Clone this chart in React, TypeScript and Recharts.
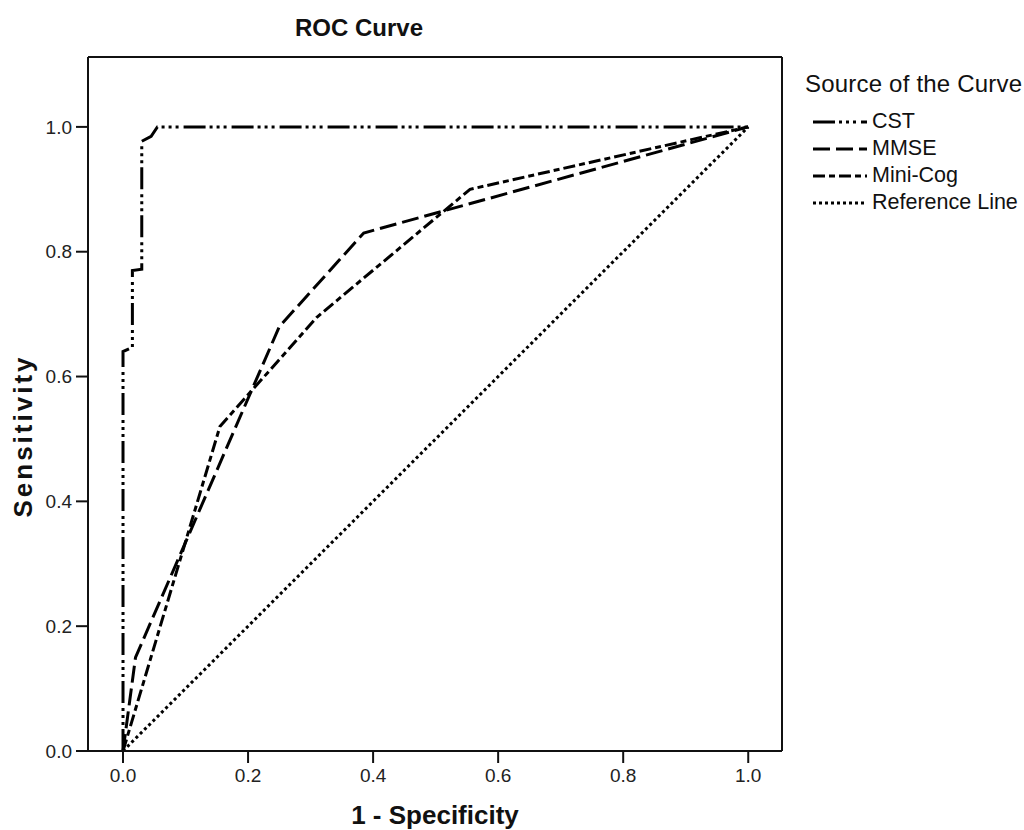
import React from 'react';
import { LineChart, Line, XAxis, YAxis, ReferenceLine, Label } from 'recharts';

// ROC points (1 - specificity, sensitivity)
const cstX = [0, 0, 0.015, 0.015, 0.03, 0.03, 0.045, 0.055, 1];
const cstY = [0, 0.64, 0.647, 0.77, 0.772, 0.977, 0.985, 1, 1];
const mmseX = [0, 0.02, 0.25, 0.385, 1];
const mmseY = [0, 0.15, 0.68, 0.83, 1];
const miniCogX = [0, 0.155, 0.31, 0.555, 1];
const miniCogY = [0, 0.52, 0.695, 0.9, 1];
const refX = [0, 1];
const refY = [0, 1];

const ticks = [0, 0.2, 0.4, 0.6, 0.8, 1];
const seriesNames = ['CST', 'MMSE', 'Mini-Cog', 'Reference Line'];
const dashes = ['22 4 3 4 3 4 3 5', '17 6', '12 4 6 4', '3 3'];

const toPoints = (xs: number[], ys: number[]) => xs.map((x, i) => ({ x, y: ys[i] }));

const series = [
  toPoints(cstX, cstY),
  toPoints(mmseX, mmseY),
  toPoints(miniCogX, miniCogY),
  toPoints(refX, refY),
];

const FONT = '"Liberation Sans", Arial, sans-serif';
const X_MAX = 1.054;
const Y_MAX = 1.112;

const tickStyle = { fill: '#222', fontSize: 19, fontFamily: FONT };
const lineStyle = { stroke: '#111', strokeWidth: 2 };

export default function App() {
  return (
    <div style={{ position: 'absolute', left: 0, top: 0, width: 1024, height: 830, background: '#fff' }}>
      <div
        style={{
          position: 'absolute', left: 295, top: 14, fontFamily: FONT, fontWeight: 'bold',
          fontSize: 24, color: '#111', whiteSpace: 'nowrap',
        }}
      >
        ROC Curve
      </div>

      <LineChart width={1024} height={830} margin={{ top: 57, right: 242, bottom: 0, left: 0 }}>
        <XAxis
          type="number"
          dataKey="x"
          domain={[-0.056, X_MAX]}
          ticks={ticks}
          allowDataOverflow
          tickFormatter={(v: number) => v.toFixed(1)}
          height={79}
          axisLine={lineStyle}
          tickLine={lineStyle}
          tickSize={12}
          tickMargin={6}
          tick={tickStyle}
        >
          <Label
            content={({ viewBox }: any) => (
              <text
                x={viewBox.x + viewBox.width / 2}
                y={824}
                textAnchor="middle"
                fontFamily={FONT}
                fontWeight="bold"
                fontSize={26}
                fill="#111"
              >
                1 - Specificity
              </text>
            )}
          />
        </XAxis>
        <YAxis
          type="number"
          dataKey="y"
          domain={[0, Y_MAX]}
          ticks={ticks}
          allowDataOverflow
          tickFormatter={(v: number) => v.toFixed(1)}
          width={88}
          axisLine={lineStyle}
          tickLine={lineStyle}
          tickSize={12}
          tickMargin={4}
          tick={tickStyle}
        >
          <Label
            content={() => (
              <text
                x={0}
                y={0}
                transform="translate(32, 436) rotate(-90)"
                textAnchor="middle"
                fontFamily={FONT}
                fontWeight="bold"
                fontSize={26}
                letterSpacing={3}
                fill="#111"
              >
                Sensitivity
              </text>
            )}
          />
        </YAxis>
        <ReferenceLine y={Y_MAX} stroke="#111" strokeWidth={2} />
        <ReferenceLine x={X_MAX} stroke="#111" strokeWidth={2} />
        {series.map((pts, i) => (
          <Line
            key={seriesNames[i]}
            data={pts}
            dataKey="y"
            type="linear"
            stroke="#000"
            strokeWidth={3}
            strokeDasharray={dashes[i]}
            dot={false}
            activeDot={false}
            isAnimationActive={false}
          />
        ))}
      </LineChart>

      <div style={{ position: 'absolute', left: 805, top: 70, fontFamily: FONT, color: '#111' }}>
        <div style={{ fontSize: 24, letterSpacing: 0.2, whiteSpace: 'nowrap', lineHeight: '28px' }}>
          Source of the Curve
        </div>
        <div style={{ marginTop: 10 }}>
          {seriesNames.map((name, i) => (
            <div key={name} style={{ display: 'flex', alignItems: 'center', height: 27 }}>
              <svg width={56} height={6} style={{ marginLeft: 8 }}>
                <line x1={0} y1={3} x2={54} y2={3} stroke="#000" strokeWidth={3} strokeDasharray={dashes[i]} />
              </svg>
              <span style={{ fontSize: 21.5, marginLeft: 3, whiteSpace: 'nowrap' }}>{name}</span>
            </div>
          ))}
        </div>
      </div>
    </div>
  );
}
